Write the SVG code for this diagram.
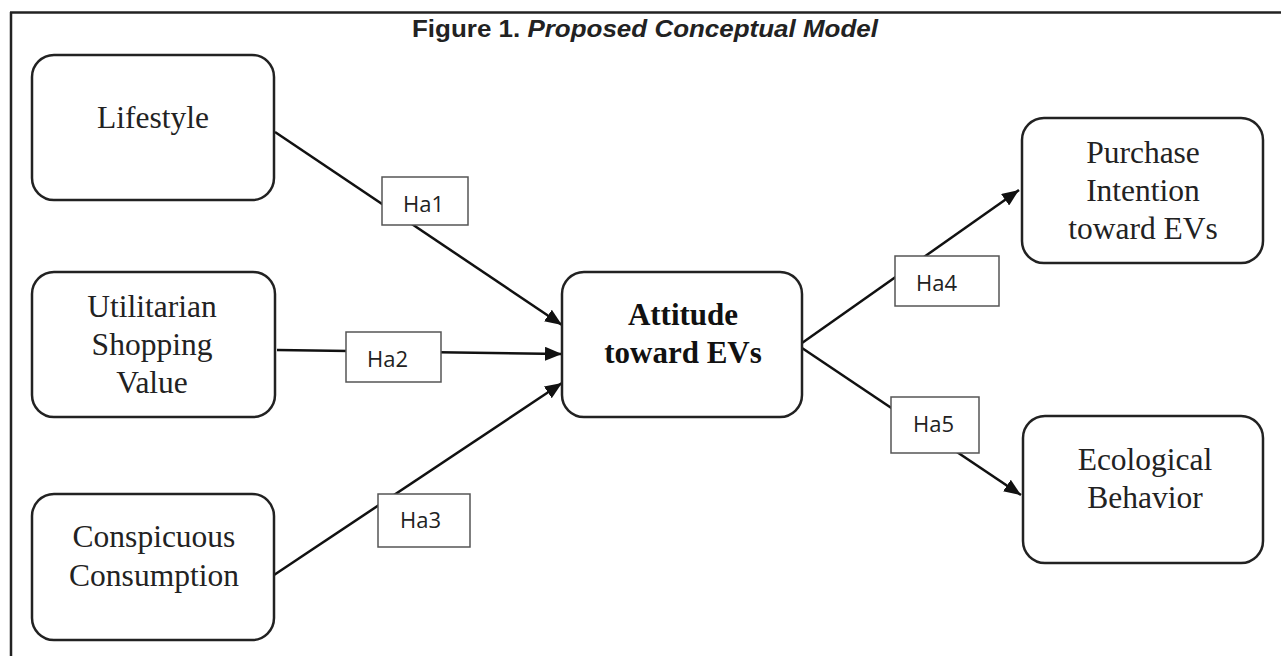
<svg xmlns="http://www.w3.org/2000/svg" width="1281" height="656" viewBox="0 0 1281 656">
<defs>
<marker id="arr" markerUnits="userSpaceOnUse" markerWidth="18" markerHeight="14" refX="17" refY="7" orient="auto">
<path d="M0,0 L17,7 L0,14 Z" fill="#111"/>
</marker>
<style>
.node{fill:#fff;stroke:#222;stroke-width:2.5}
.lbl{fill:#fff;stroke:#555;stroke-width:1.5}
.ntxt{font-family:"Liberation Serif","Times New Roman",serif;font-size:31.5px;fill:#222;text-anchor:middle}
.btxt{font-family:"Liberation Serif","Times New Roman",serif;font-size:31px;font-weight:bold;fill:#111;text-anchor:middle}
.htxt{font-family:"Open Sans","Liberation Sans",sans-serif;font-size:22px;fill:#222}
.edge{stroke:#111;stroke-width:2.5;fill:none}
</style>
</defs>
<rect width="1281" height="656" fill="#fff"/>
<g id="frame">
<line x1="10" y1="12.5" x2="1281" y2="12.5" stroke="#222" stroke-width="2.5"/>
<line x1="11" y1="12" x2="11" y2="656" stroke="#222" stroke-width="2.5"/>
<text x="645" y="37" text-anchor="middle" font-family="'Liberation Sans',Arial,sans-serif" font-size="23" font-weight="bold" fill="#222" textLength="466" lengthAdjust="spacingAndGlyphs">Figure 1. <tspan font-style="italic">Proposed Conceptual Model</tspan></text>
</g>
<g id="connectors">
<line class="edge" x1="275" y1="132" x2="562" y2="325" marker-end="url(#arr)"/>
<line class="edge" x1="277" y1="350" x2="562" y2="354" marker-end="url(#arr)"/>
<line class="edge" x1="274" y1="575" x2="562" y2="383" marker-end="url(#arr)"/>
<line class="edge" x1="802" y1="343" x2="1019" y2="190" marker-end="url(#arr)"/>
<line class="edge" x1="802" y1="348" x2="1021" y2="495" marker-end="url(#arr)"/>
</g>
<g id="lifestyle">
<rect class="node" x="32" y="55" width="242" height="145" rx="22"/>
<text class="ntxt" x="153" y="128">Lifestyle</text>
</g>
<g id="utilitarian">
<rect class="node" x="32" y="272" width="243" height="145" rx="22"/>
<text class="ntxt" x="152" y="317">Utilitarian</text>
<text class="ntxt" x="152" y="355">Shopping</text>
<text class="ntxt" x="152" y="393">Value</text>
</g>
<g id="conspicuous">
<rect class="node" x="32" y="494" width="242" height="146" rx="22"/>
<text class="ntxt" x="154" y="547">Conspicuous</text>
<text class="ntxt" x="154" y="586">Consumption</text>
</g>
<g id="attitude">
<rect class="node" x="562" y="272" width="240" height="145" rx="22"/>
<text class="btxt" x="683" y="325">Attitude</text>
<text class="btxt" x="683" y="363">toward EVs</text>
</g>
<g id="purchase">
<rect class="node" x="1022" y="118" width="241" height="145" rx="22"/>
<text class="ntxt" x="1143" y="163">Purchase</text>
<text class="ntxt" x="1143" y="201">Intention</text>
<text class="ntxt" x="1143" y="239">toward EVs</text>
</g>
<g id="ecological">
<rect class="node" x="1023" y="416" width="240" height="147" rx="22"/>
<text class="ntxt" x="1145" y="470">Ecological</text>
<text class="ntxt" x="1145" y="508">Behavior</text>
</g>
<g id="ha1">
<rect class="lbl" x="382" y="177" width="86" height="48"/>
<text class="htxt" x="403" y="212">Ha1</text>
</g>
<g id="ha2">
<rect class="lbl" x="346" y="332" width="95" height="50"/>
<text class="htxt" x="367" y="367">Ha2</text>
</g>
<g id="ha3">
<rect class="lbl" x="378" y="494" width="92" height="53"/>
<text class="htxt" x="400" y="528">Ha3</text>
</g>
<g id="ha4">
<rect class="lbl" x="895" y="256" width="104" height="50"/>
<text class="htxt" x="916" y="291">Ha4</text>
</g>
<g id="ha5">
<rect class="lbl" x="891" y="397" width="88" height="56"/>
<text class="htxt" x="913" y="432">Ha5</text>
</g>
</svg>
